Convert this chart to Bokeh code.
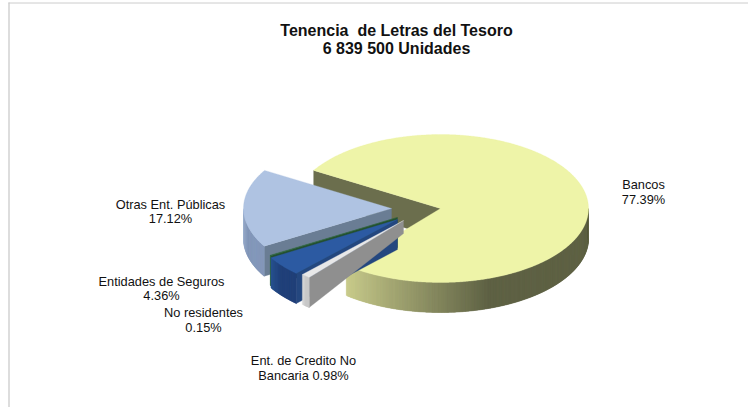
from bokeh.plotting import figure
from bokeh.embed import file_html
from bokeh.resources import INLINE
from bokeh.core.properties import value
import numpy as np

# ---- data ----
names = ["Bancos", "Ent. de Credito No Bancaria", "Entidades de Seguros", "No residentes", "Otras Ent. Públicas"]
shares = [77.39, 0.98, 4.36, 0.15, 17.12]
title_lines = ["Tenencia \u00a0de Letras del Tesoro", "6 839 500 Unidades"]

# ---- projection / styling (pixels of the page) ----
W, H = 748, 407
CX, CY, RX, RY, DEPTH = 440, 208, 148, 74, 30
START_DEG = 149           # Bancos starts here and runs clockwise
SHIFT_X = [0, -37, -43, -43, -49]
SHIFT_Y = [0, 12, 11, 9, 0]
APEX_DEPTH = [30, 13, 30, 30, 30]
TOP = ["#eef4a8", "#e8e8e8", "#2c5aa2", "#2f6b3c", "#afc3e2"]
CUT = ["#6b6e4d", "#8f8f8f", "#24477f", "#245030", "#6a7d94"]
SIDE_L = ["#c9cc8c", "#d6d6d6", "#28528f", "#2f6b3c", "#a8bbda"]
SIDE_R = ["#5f6245", "#c8c8c8", "#21417a", "#2a5f36", "#8598ba"]

p = figure(width=W, height=H, x_range=(0, W), y_range=(H, 0), output_backend="svg",
           toolbar_location=None, min_border=0, outline_line_color=None,
           background_fill_color="white", border_fill_color="white")
p.axis.visible = False
p.grid.visible = False
p.styles = {"position": "absolute", "left": "0px", "top": "0px"}

def pt(deg, ox, oy):
    a = np.radians(deg)
    return ox + RX * np.cos(a), oy - RY * np.sin(a)

def lerp(c1, c2, t):
    a = [int(c1[i:i+2], 16) for i in (1, 3, 5)]
    b = [int(c2[i:i+2], 16) for i in (1, 3, 5)]
    return "#%02x%02x%02x" % tuple(int(round(u + (v - u) * t)) for u, v in zip(a, b))

# slice limits, clockwise from START_DEG
spans = []
ang = START_DEG
for s in shares:
    spans.append((ang, ang - s * 3.6))
    ang -= s * 3.6

def draw_slice(i):
    a0, a1 = spans[i]
    ox, oy = CX + SHIFT_X[i], CY + SHIFT_Y[i]
    # the cut face turned to the viewer lies on the slice's first edge
    ex, ey = pt(a0, ox, oy)
    p.patch([ox, ex, ex, ox], [oy, ey, ey + DEPTH, oy + APEX_DEPTH[i]], color=CUT[i], line_width=0.3)
    # outer wall, only the part facing the viewer (lower half of the ellipse)
    angs = np.mod(np.linspace(a0, a1, max(int(abs(a1 - a0)) * 2, 3)), 360)
    angs = np.sort(angs[(angs >= 180) & (angs <= 360)])
    for k in range(len(angs) - 1):
        a, b = angs[k], angs[min(k + 2, len(angs) - 1)]
        x0, y0 = pt(a, ox, oy)
        mid = np.linspace(a, b, 4)
        xm, ym = pt(mid, ox, oy)
        t = min(1, (a - angs[0]) / max(1, (angs[-1] - angs[0]) * 0.45))
        col = lerp(SIDE_L[i], SIDE_R[i], t)
        p.patch(np.r_[xm, xm[::-1]], np.r_[ym, ym[::-1] + DEPTH], color=col, line_width=0.3)
    # top face
    arc = np.linspace(a0, a1, max(int(abs(a1 - a0)) * 2, 3))
    xs, ys = pt(arc, ox, oy)
    p.patch(np.r_[ox, xs], np.r_[oy, ys], color=TOP[i], line_width=0.3)

for i in [0, 4, 3, 2, 1]:
    draw_slice(i)

# frame of the chart area: only the top and left rules show
p.line([8.5, 8.5], [H, 2], line_color="#dddddd", line_width=2)
p.line([8, W], [2.5, 2.5], line_color="#cccccc", line_width=1)

FONT = value("Liberation Sans")
def txt(x, y, s, size="12.8px", bold=False):
    p.text([x], [y], text=[s], text_font=FONT, text_font_size=size, text_color="#111111",
           text_align="center", text_baseline="middle", text_font_style="bold" if bold else "normal")

txt(396, 30, title_lines[0], "16px", True)
txt(396, 48, title_lines[1], "16px", True)
txt(643, 184, names[0])
txt(643, 199, f"{shares[0]:.2f}%")
txt(170, 204, names[4])
txt(170, 218, f"{shares[4]:.2f}%")
txt(161, 281, names[2])
txt(161, 295, f"{shares[2]:.2f}%")
txt(203, 312, names[3])
txt(203, 327, f"{shares[3]:.2f}%")
txt(303, 360, "Ent. de Credito No")
txt(303, 375, f"Bancaria {shares[1]:.2f}%")

open("out.html", "w").write(file_html(p, INLINE))
